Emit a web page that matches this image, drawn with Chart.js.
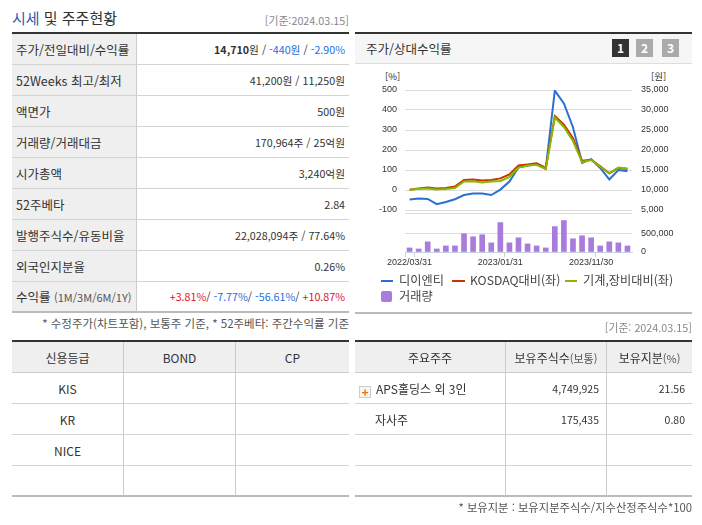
<!DOCTYPE html>
<html lang="ko">
<head>
<meta charset="utf-8">
<title>시세 및 주주현황</title>
<script src="https://cdn.jsdelivr.net/npm/chart.js@4/dist/chart.umd.min.js"></script>
<style>
html,body{margin:0;padding:0;background:#fff;}
body{width:702px;height:525px;position:relative;overflow:hidden;font-family:"Noto Sans CJK KR","Noto Sans",sans-serif;font-size:12px;color:#333;}
.abs{position:absolute;white-space:nowrap;line-height:16px;}
table{position:absolute;border-collapse:separate;border-spacing:0;table-layout:fixed;font-size:12px;}
td{box-sizing:border-box;height:31px;padding:0;border-bottom:1px solid #d4d4d4;white-space:nowrap;overflow:hidden;}
tr:last-child td{border-bottom:2px solid #bbb;}
#price{left:12px;top:32px;width:337px;border-top:2px solid #333;}
#price td:first-child{width:125px;background:#efefef;border-right:1px solid #ccc;padding-left:4px;font-size:12.5px;}
#price td:last-child{text-align:right;padding-right:4px;font-size:10.7px;}
.grid{top:340px;border-top:2px solid #333;text-align:center;}
.grid td{border-right:1px solid #ccc;}
.grid td:last-child{border-right:0;}
.grid tr:first-child td{background:#efefef;border-bottom:1px solid #ccc;}
#rating{left:12px;width:337px;}
#holders{left:355px;width:337px;}
#holders td.n{text-align:right;padding-right:7px;font-size:10.5px;}
#holders td.l{text-align:left;padding-left:4px;}
.blue{color:#1a6fe0;}
.red{color:#e0102a;}
.small{font-size:11px;color:#555;}
.gray{color:#888;}
#head{position:absolute;left:355px;top:32px;width:337px;border-top:2px solid #333;border-bottom:1px solid #ddd;background:#f6f6f6;height:29px;}
.btn{position:absolute;top:39px;width:17px;height:18px;line-height:18px;text-align:center;color:#fff;font-weight:700;font-size:12px;background:#aaa;}
canvas{position:absolute;}
.key{position:absolute;}
.lg{font-size:12.2px;color:#444;}
#plus{position:absolute;left:359px;top:386px;width:10px;height:10px;border:1px solid #ccc;background:#f6f6f6;color:#f07000;font-weight:700;font-size:12px;line-height:10px;text-align:center;}
</style>
</head>
<body>
<div class="abs" style="left:12px;top:9px;font-size:15px;line-height:18px;"><span style="color:#3558b8;">시세</span> 및 주주현황</div>
<div class="abs gray" style="right:353px;top:12px;font-size:10.8px;">[기준:2024.03.15]</div>

<table id="price">
<tr><td>주가/전일대비/수익률</td><td><b>14,710</b>원 / <span class="blue">-440원</span> / <span class="blue">-2.90%</span></td></tr>
<tr><td>52Weeks 최고/최저</td><td>41,200원 / 11,250원</td></tr>
<tr><td>액면가</td><td>500원</td></tr>
<tr><td>거래량/거래대금</td><td>170,964주 / 25억원</td></tr>
<tr><td>시가총액</td><td>3,240억원</td></tr>
<tr><td>52주베타</td><td>2.84</td></tr>
<tr><td>발행주식수/유동비율</td><td>22,028,094주 / 77.64%</td></tr>
<tr><td>외국인지분율</td><td>0.26%</td></tr>
<tr><td>수익률 <span class="small">(1M/3M/6M/1Y)</span></td><td><span class="red">+3.81%</span>/ <span class="blue">-7.77%</span>/ <span class="blue">-56.61%</span>/ <span class="red">+10.87%</span></td></tr>
</table>
<div class="abs" style="right:353px;top:315px;color:#555;font-size:11.5px;">* 수정주가(차트포함), 보통주 기준, * 52주베타: 주간수익률 기준</div>

<div id="head"></div>
<div class="abs" style="left:366px;top:41px;font-size:12.5px;">주가/상대수익률</div>
<div class="btn" style="left:612px;background:#333;">1</div>
<div class="btn" style="left:636px;">2</div>
<div class="btn" style="left:662px;">3</div>

<div class="abs" style="left:385px;top:68px;font-size:9.5px;">[%]</div>
<div class="abs" style="left:651px;top:68px;font-size:9.5px;">[원]</div>
<canvas id="lines" width="347" height="138" style="left:355px;top:80px;"></canvas>
<canvas id="bars" width="347" height="67" style="left:355px;top:205px;"></canvas>

<div class="key" style="left:381px;top:280px;width:12px;height:2px;background:#2b6fd4;"></div>
<div class="abs lg" style="left:399px;top:272px;">디이엔티</div>
<div class="key" style="left:452px;top:280px;width:13px;height:2px;background:#cc3300;"></div>
<div class="abs lg" style="left:470px;top:272px;">KOSDAQ대비(좌)</div>
<div class="key" style="left:565px;top:280px;width:12px;height:2px;background:#88b800;"></div>
<div class="abs lg" style="left:583px;top:272px;">기계,장비대비(좌)</div>
<div class="key" style="left:381px;top:291px;width:11px;height:11px;border-radius:2px;background:#a87bdc;"></div>
<div class="abs lg" style="left:399px;top:288px;">거래량</div>
<div class="key" style="left:355px;top:312px;width:337px;height:2px;background:#bbb;"></div>

<div class="abs gray" style="right:10px;top:319px;font-size:10.8px;">[기준: 2024.03.15]</div>

<table id="rating" class="grid">
<colgroup><col style="width:112px"><col style="width:112px"><col></colgroup>
<tr><td>신용등급</td><td>BOND</td><td>CP</td></tr>
<tr><td>KIS</td><td></td><td></td></tr>
<tr><td>KR</td><td></td><td></td></tr>
<tr><td>NICE</td><td></td><td></td></tr>
<tr><td></td><td></td><td></td></tr>
</table>

<table id="holders" class="grid">
<colgroup><col style="width:151px"><col style="width:101px"><col></colgroup>
<tr><td>주요주주</td><td>보유주식수<span class="small">(보통)</span></td><td>보유지분<span class="small">(%)</span></td></tr>
<tr><td class="l" style="padding-left:21px;">APS홀딩스 외 3인</td><td class="n">4,749,925</td><td class="n">21.56</td></tr>
<tr><td class="l" style="padding-left:20px;">자사주</td><td class="n">175,435</td><td class="n">0.80</td></tr>
<tr><td></td><td></td><td></td></tr>
<tr><td></td><td></td><td></td></tr>
</table>
<div id="plus">+</div>
<div class="abs" style="right:10px;top:499px;color:#555;font-size:11.3px;">* 보유지분 : 보유지분주식수/지수산정주식수*100</div>

<script>
const dates = ['2022/03/31','2022/04/30','2022/05/31','2022/06/30','2022/07/31','2022/08/31','2022/09/30','2022/10/31','2022/11/30','2022/12/31',
  '2023/01/31','2023/02/28','2023/03/31','2023/04/30','2023/05/31','2023/06/30','2023/07/31','2023/08/31','2023/09/30','2023/10/31',
  '2023/11/30','2023/12/31','2024/01/31','2024/02/29','2024/03/15'];
const priceWon = [7600,7850,7750,6450,7000,7700,8750,9150,9150,8750,10100,12100,15650,16150,16400,15300,34850,31650,25700,16750,17700,15500,12650,15000,14710];
const kosdaqPct = [1,8,12,8,10,17,50,53,48,50,58,78,123,128,133,111,370,327,259,146,151,118,83,110,105];
const machinePct = [0,6,7,3,5,10,43,44,38,43,45,66,112,122,126,105,362,315,245,140,150,116,85,112,108];
const volume = [107000,80000,268000,80000,160000,160000,482000,402000,455000,241000,777000,241000,375000,214000,160000,107000,670000,830000,348000,428000,375000,160000,268000,241000,160000];
const pctTicks = [-100,0,100,200,300,400,500];
const wonTicks = [5000,10000,15000,20000,25000,30000,35000];
const volTicks = [0,500000];
const volTop = 1030000;
const labelIdx = [0,10,20];
const tickIdx = [0,1,11,21];

const tickFont = {family:'"Liberation Sans",sans-serif', size:9};
const fmt = v => Number(v).toLocaleString('en-US');
// fixed axis width and no extra room for half a label, so the plot area is where the padding puts it
const fitY = w => s => { s.width = w; s.paddingTop = 0; s.paddingBottom = 0; };
const setTicks = list => s => { s.ticks = list.map(value => ({value})); };

new Chart(document.getElementById('lines'), {
  type:'line',
  data:{labels:dates, datasets:[
    {label:'디이엔티', data:priceWon, yAxisID:'won', borderColor:'#2b6fd4', order:3},
    {label:'KOSDAQ대비(좌)', data:kosdaqPct, yAxisID:'pct', borderColor:'#cc3300', order:2},
    {label:'기계,장비대비(좌)', data:machinePct, yAxisID:'pct', borderColor:'#88b800', order:1}
  ]},
  options:{
    responsive:false, animation:false,
    layout:{padding:{top:10,bottom:8}},
    elements:{point:{radius:0}, line:{borderWidth:2, tension:0}},
    plugins:{legend:{display:false}, tooltip:{enabled:false}},
    scales:{
      x:{display:false, offset:true},
      pct:{position:'left', min:-100, max:500, afterFit:fitY(50), afterBuildTicks:setTicks(pctTicks),
        border:{display:false},
        grid:{color:'#ddd', drawTicks:false},
        ticks:{autoSkip:false, padding:8, color:'#333', font:tickFont, callback:fmt}},
      won:{position:'right', min:5000, max:35000, afterFit:fitY(70), afterBuildTicks:setTicks(wonTicks),
        border:{display:false},
        grid:{drawOnChartArea:false, drawTicks:false},
        ticks:{autoSkip:false, padding:9, color:'#333', font:tickFont, callback:fmt}}
    }
  }
});

new Chart(document.getElementById('bars'), {
  type:'bar',
  data:{labels:dates, datasets:[{label:'거래량', data:volume, yAxisID:'vol', backgroundColor:'#a87bdc', barThickness:5}]},
  options:{
    responsive:false, animation:false,
    layout:{padding:{top:8,left:50}},
    plugins:{legend:{display:false}, tooltip:{enabled:false}},
    scales:{
      x:{offset:true, afterFit:s => { s.height = 20; },
        border:{color:'#c6d2e0'},
        grid:{offset:true, drawOnChartArea:false, tickLength:5,
          tickColor:c => tickIdx.includes(c.index) ? '#c6d2e0' : 'transparent'},
        ticks:{autoSkip:false, maxRotation:0, padding:0, color:'#333', font:tickFont,
          callback:(v,i) => labelIdx.includes(i) ? dates[i] : ''}},
      vol:{position:'right', min:0, max:volTop, afterFit:fitY(70),
        afterBuildTicks:setTicks([...volTicks, volTop]),
        border:{display:false},
        grid:{color:c => c.tick && c.tick.value === 0 ? 'transparent' : '#ddd', drawTicks:false},
        ticks:{autoSkip:false, padding:9, color:'#333', font:tickFont, callback:v => volTicks.includes(v) ? fmt(v) : ''}}
    }
  }
});
</script>
</body>
</html>
